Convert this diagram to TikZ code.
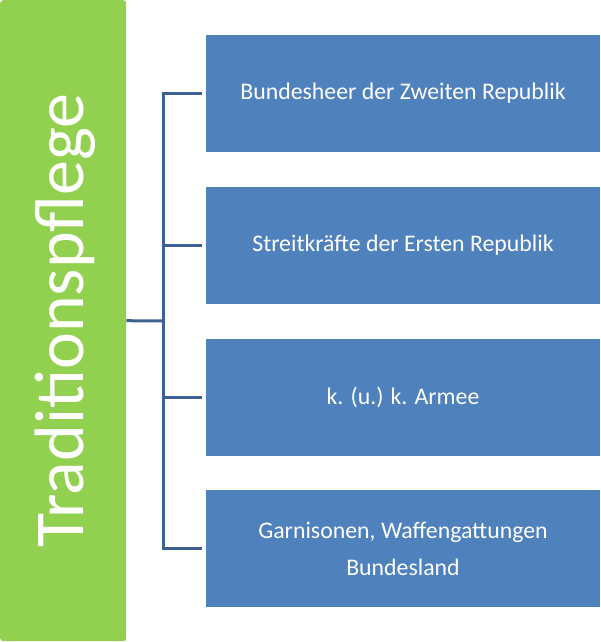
\documentclass[tikz,border=0pt]{standalone}
\usepackage{fontspec}
\setmainfont{Carlito}
\usetikzlibrary{positioning,calc}
\definecolor{barGreen}{RGB}{146,208,80}
\definecolor{boxBlue}{RGB}{79,129,189}
\definecolor{linkBlue}{RGB}{60,96,146}
\tikzset{
  greenbar/.style={rectangle, rounded corners=3pt, fill=barGreen, draw=none,
    anchor=north west, minimum width=126pt, minimum height=641pt, inner sep=0pt},
  bartext/.style={text=white, font=\fontsize{70}{70}\selectfont, rotate=90, inner sep=0pt},
  bluebox/.style={rectangle, fill=boxBlue, draw=none, minimum width=394pt,
    minimum height=117pt, inner sep=0pt, text=white, align=center,
    font=\fontsize{23.8}{37}\selectfont},
  link/.style={draw=linkBlue, line width=3pt, shorten <=4pt, shorten >=4pt}
}
\begin{document}
\begin{tikzpicture}[x=1pt,y=-1pt]
  \useasboundingbox (0,0) rectangle (600,642);
  % left bar with rotated title
  \node[greenbar] (trad) at (0,0) {};
  \node[bartext] (tradtext) at ($(trad.center)+(2,0)$) {Traditionspflege};
  % boxes on the right
  \foreach \yy/\name/\txt in {93.5/heer/{Bundesheer der Zweiten Republik},
                             245/erste/{Streitkräfte der Ersten Republik},
                             397/armee/{k. (u.) k. Armee},
                             548.5/garn/{Garnisonen, Waffengattungen\\Bundesland}}
    \node[bluebox] (\name) at (403,\yy) {\txt};
  % connectors
  \coordinate (hub) at (163,321);
  \draw[link, shorten <=0pt, shorten >=0pt] (trad.east) -- (hub);
  \draw[link, line join=miter] (heer.west) -| (hub) |- (garn.west);
  \draw[link, shorten <=0pt] (erste.west -| hub) -- (erste.west);
  \draw[link, shorten <=0pt] (armee.west -| hub) -- (armee.west);
\end{tikzpicture}
\end{document}
